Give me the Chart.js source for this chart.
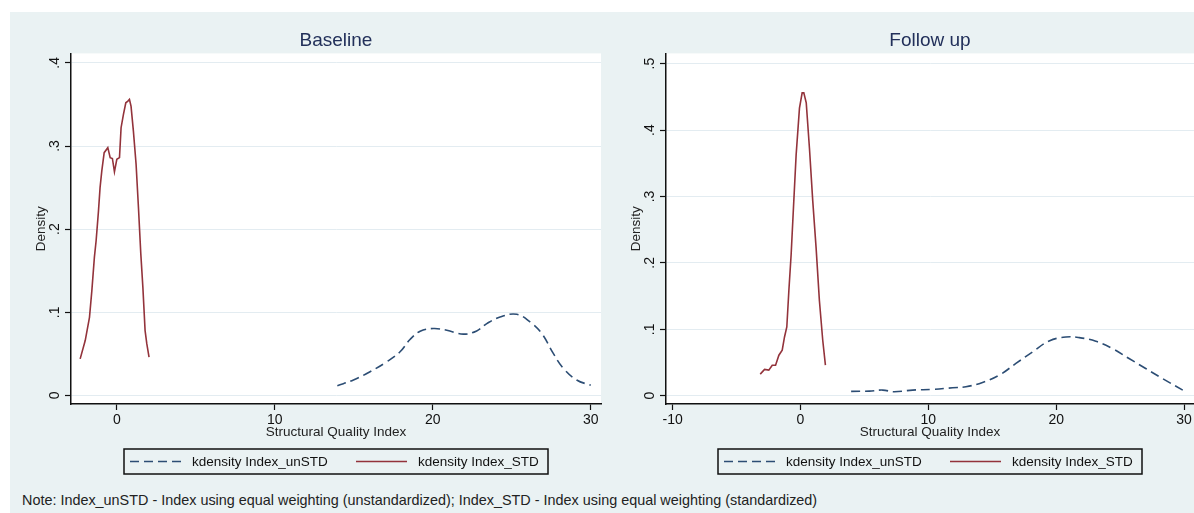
<!DOCTYPE html>
<html>
<head>
<meta charset="utf-8">
<script src="https://cdn.jsdelivr.net/npm/chart.js@4.4.1/dist/chart.umd.min.js"></script>
<style>
body { margin: 0; background: #fff; width: 1194px; height: 513px; overflow: hidden; position: relative; font-family: "Liberation Sans", Arial, sans-serif; }
#bg { position: absolute; left: 10px; top: 12px; width: 1184px; height: 501px; background: #eaf2f3; }
.panel { position: absolute; top: 12px; width: 592px; height: 468px; }
#note { position: absolute; left: 22px; top: 492px; font-size: 14.4px; line-height: 17px; color: #222; white-space: nowrap; }
</style>
</head>
<body>
<div id="bg"></div>
<div class="panel" style="left:10px"><canvas id="baseline"></canvas></div>
<div class="panel" style="left:602px"><canvas id="followup"></canvas></div>
<div id="note">Note: Index_unSTD - Index using equal weighting (unstandardized); Index_STD - Index using equal weighting (standardized)</div>

<script>
/* Data */
// Baseline panel
const baseUnX = [13.96, 14.98, 16.03, 17.09, 17.93, 18.56, 19.2, 20.04, 20.89, 21.94, 22.78, 23.42, 24.26, 25.32, 26.16, 26.9, 27.63, 28.27, 29.11, 30.0];
const baseUnY = [0.0117, 0.0186, 0.0285, 0.0405, 0.0525, 0.0673, 0.0772, 0.0805, 0.0784, 0.0737, 0.0776, 0.0864, 0.0944, 0.0976, 0.0884, 0.0745, 0.0505, 0.0326, 0.0186, 0.0122];
const baseStdX = [-2.32, -2.0, -1.73, -1.58, -1.42, -1.31, -1.16, -1.06, -0.95, -0.8, -0.57, -0.42, -0.28, -0.15, 0.0, 0.17, 0.27, 0.42, 0.57, 0.7, 0.8, 0.9, 1.05, 1.22, 1.37, 1.52, 1.65, 1.79, 1.9, 2.04];
const baseStdY = [0.044, 0.066, 0.094, 0.126, 0.166, 0.186, 0.222, 0.25, 0.27, 0.292, 0.298, 0.286, 0.285, 0.269, 0.284, 0.286, 0.322, 0.338, 0.352, 0.354, 0.356, 0.348, 0.318, 0.278, 0.226, 0.17, 0.13, 0.078, 0.062, 0.046];

// Follow up panel
const followUnX = [3.96, 5.39, 6.43, 7.34, 8.77, 10.34, 11.9, 12.94, 14.24, 15.55, 16.85, 18.15, 19.45, 20.76, 21.8, 23.1, 24.4, 25.7, 27.0, 28.3, 29.9];
const followUnY = [0.0066, 0.007, 0.0085, 0.006, 0.0085, 0.0096, 0.012, 0.0135, 0.02, 0.031, 0.0486, 0.066, 0.0825, 0.0885, 0.0875, 0.082, 0.071, 0.056, 0.041, 0.026, 0.0085];
const followStdX = [-3.15, -2.81, -2.48, -2.21, -1.95, -1.69, -1.43, -1.25, -1.07, -0.91, -0.73, -0.55, -0.34, -0.08, 0.13, 0.26, 0.45, 0.7, 0.96, 1.22, 1.48, 1.74, 1.95];
const followStdY = [0.0325, 0.0396, 0.0385, 0.046, 0.046, 0.061, 0.0685, 0.0885, 0.1035, 0.158, 0.213, 0.283, 0.363, 0.433, 0.456, 0.456, 0.441, 0.373, 0.293, 0.223, 0.143, 0.0835, 0.046];

// Ticks
const baseXTicks = [0, 10, 20, 30];
const baseYTicks = [0, 0.1, 0.2, 0.3, 0.4];
const followXTicks = [-10, 0, 10, 20, 30];
const followYTicks = [0, 0.1, 0.2, 0.3, 0.4, 0.5];

const seriesNames = ["kdensity Index_unSTD", "kdensity Index_STD"];

const FONT = '"Liberation Sans", Arial, sans-serif';
Chart.defaults.font.family = FONT;

function toPoints(xs, ys) {
  return xs.map((x, i) => ({ x: x, y: ys[i] }));
}

// Stata writes .1 instead of 0.1
function fmtDensity(v) {
  return v === 0 ? "0" : String(+v.toFixed(2)).replace(/^0/, "");
}

// white plot region, rotated y labels, boxed legend
const stataLook = {
  id: "stataLook",
  beforeDraw(chart) {
    const a = chart.chartArea, ctx = chart.ctx;
    ctx.save();
    ctx.fillStyle = "#fff";
    ctx.fillRect(a.left, a.top, a.right - a.left, a.bottom - a.top);
    ctx.restore();
  },
  afterDraw(chart) {
    const ctx = chart.ctx, a = chart.chartArea, ys = chart.scales.y;
    ctx.save();
    ctx.font = "14px " + FONT;
    ctx.fillStyle = "#111";
    ctx.textAlign = "center";
    ctx.textBaseline = "middle";
    ys.ticks.forEach(function (t) {
      ctx.save();
      ctx.translate(a.left - 16, ys.getPixelForValue(t.value));
      ctx.rotate(-Math.PI / 2);
      ctx.fillText(fmtDensity(t.value), 0, 0);
      ctx.restore();
    });

    // legend
    const cx = (a.left + a.right) / 2;
    const bx = cx - 212, by = 437, bw = 424, bh = 25;
    ctx.lineWidth = 1.5;
    ctx.strokeStyle = "#111";
    ctx.strokeRect(bx, by, bw, bh);
    ctx.font = "13.5px " + FONT;
    ctx.textAlign = "left";
    chart.data.datasets.forEach(function (ds, i) {
      const x0 = bx + 6 + i * 226, ym = by + bh / 2;
      ctx.setLineDash(ds.borderDash || []);
      ctx.strokeStyle = ds.borderColor;
      ctx.lineWidth = ds.borderWidth;
      ctx.beginPath();
      ctx.moveTo(x0, ym);
      ctx.lineTo(x0 + 51, ym);
      ctx.stroke();
      ctx.setLineDash([]);
      ctx.fillStyle = "#111";
      ctx.fillText(ds.label, x0 + 62, ym + 0.5);
    });
    ctx.restore();
  },
};

function makePanel(canvasId, title, unX, unY, stdX, stdY, xMin, xMax, xTicks, yMin, yMax, yTicks, yAxisWidth, padRight) {
  return new Chart(document.getElementById(canvasId), {
    type: "line",
    data: {
      datasets: [
        {
          label: seriesNames[0],
          data: toPoints(unX, unY),
          borderColor: "#2c4d74",
          borderWidth: 1.6,
          borderDash: [9, 5],
          tension: 0.4,
          pointRadius: 0,
        },
        {
          label: seriesNames[1],
          data: toPoints(stdX, stdY),
          borderColor: "#93333b",
          borderWidth: 1.6,
          tension: 0,
          pointRadius: 0,
        },
      ],
    },
    options: {
      responsive: true,
      maintainAspectRatio: false,
      animation: false,
      layout: { padding: { left: 0, right: padRight, top: 0, bottom: 36 } },
      plugins: {
        legend: { display: false },
        tooltip: { enabled: false },
        title: {
          display: true,
          text: title,
          fullSize: false,
          color: "#22305a",
          font: { size: 19, weight: "normal" },
          padding: { top: 17, bottom: 1.6 },
        },
      },
      scales: {
        x: {
          type: "linear",
          min: xMin,
          max: xMax,
          afterBuildTicks: (scale) => { scale.ticks = xTicks.map((v) => ({ value: v })); },
          afterFit: (scale) => { scale.height = 40; },
          ticks: { color: "#111", font: { size: 14 }, padding: 2 },
          grid: { drawOnChartArea: false, drawTicks: true, tickLength: 6, tickColor: "#111", tickWidth: 1.2 },
          border: { color: "#111", width: 1.5 },
          title: {
            display: true,
            text: "Structural Quality Index",
            color: "#222",
            font: { size: 13.5 },
            padding: { top: 0, bottom: 3.2 },
          },
        },
        y: {
          type: "linear",
          min: yMin,
          max: yMax,
          afterBuildTicks: (scale) => { scale.ticks = yTicks.map((v) => ({ value: v })); },
          afterFit: (scale) => { scale.width = yAxisWidth; },
          ticks: { display: false },
          grid: { color: "#e3ecf1", lineWidth: 1, drawTicks: true, tickLength: 6, tickColor: "#111", tickWidth: 1.2 },
          border: { color: "#111", width: 1.5 },
          title: {
            display: true,
            text: "Density",
            color: "#222",
            font: { size: 13.5 },
            padding: { top: yAxisWidth - 38.1, bottom: 0 },
          },
        },
      },
    },
    plugins: [stataLook],
  });
}

const baselineChart = makePanel("baseline", "Baseline", baseUnX, baseUnY, baseStdX, baseStdY,
  -2.9, 30.65, baseXTicks, -0.0103, 0.4114, baseYTicks, 61, 1);

const followChart = makePanel("followup", "Follow up", followUnX, followUnY, followStdX, followStdY,
  -10.52, 30.78, followXTicks, -0.01245, 0.51545, followYTicks, 64, 0);
</script>
</body>
</html>
